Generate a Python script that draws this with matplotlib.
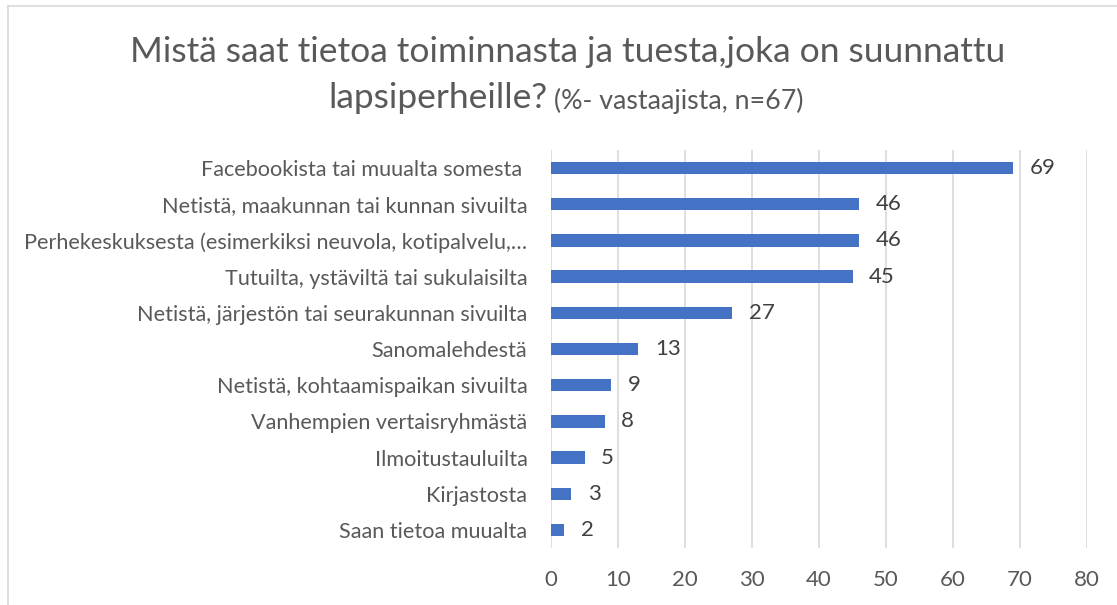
import matplotlib.pyplot as plt
from matplotlib.lines import Line2D

categories = [
    'Facebookista tai muualta somesta ',
    'Netistä, maakunnan tai kunnan sivuilta',
    'Perhekeskuksesta (esimerkiksi neuvola, kotipalvelu,…',
    'Tutuilta, ystäviltä tai sukulaisilta',
    'Netistä, järjestön tai seurakunnan sivuilta',
    'Sanomalehdestä',
    'Netistä, kohtaamispaikan sivuilta',
    'Vanhempien vertaisryhmästä',
    'Ilmoitustauluilta',
    'Kirjastosta',
    'Saan tietoa muualta',
]
values = [69, 46, 46, 45, 27, 13, 9, 8, 5, 3, 2]
xticks = [0, 10, 20, 30, 40, 50, 60, 70, 80]

plt.rcParams['font.family'] = ['Lato', 'DejaVu Sans']

W, H = 1117, 605
fig = plt.figure(figsize=(W / 100, H / 100), dpi=100)
ax = fig.add_axes([551 / W, 1 - 548 / H, (1087 - 551) / W, (548 - 150) / H])

ypos = list(range(len(categories)))
ax.barh(ypos, values, height=0.34, color='#4472C4', zorder=3)
ax.set_yticks(ypos)
ax.set_yticklabels(categories, fontsize=15.6, color='#595959')
ax.set_ylim(len(categories) - 0.5, -0.5)
ax.set_xlim(0, 80)
ax.set_xticks(xticks)
ax.tick_params(axis='x', labelsize=16, labelcolor='#595959', length=0, pad=16)
ax.tick_params(axis='y', length=0, pad=17)
ax.grid(axis='x', color='#D9D9D9', linewidth=1.2, zorder=0)
for s in ax.spines.values():
    s.set_visible(False)

for y, v in zip(ypos, values):
    ax.annotate(str(v), (v, y), xytext=(12, 0), textcoords='offset points',
                va='center', ha='left', fontsize=16, color='#404040')

# title
fig.text(568 / W, 1 - 52 / H, 'Mistä saat tietoa toiminnasta ja tuesta,joka on suunnattu',
         ha='center', va='center', fontsize=25.5, color='#595959')
t2 = fig.text(328 / W, 1 - 108 / H, 'lapsiperheille?', ha='left', va='baseline',
              fontsize=25.5, color='#595959')
fig.canvas.draw()
ax.annotate(' (%- vastaajista, n=67)', xy=(1, 0), xycoords=t2, va='bottom', ha='left',
            fontsize=19.3, color='#595959')

# chart area border (left and top)
fig.add_artist(Line2D([7.5 / W, 7.5 / W], [0, 1 - 6 / H], transform=fig.transFigure,
                      color='#D9D9D9', linewidth=1.2))
fig.add_artist(Line2D([7.5 / W, 1], [1 - 6 / H, 1 - 6 / H], transform=fig.transFigure,
                      color='#D9D9D9', linewidth=1.2))

fig.savefig('out.png', dpi=100)
